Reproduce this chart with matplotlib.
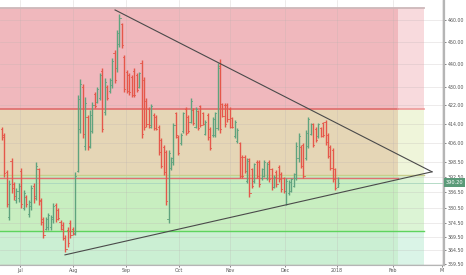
import matplotlib
matplotlib.use("Agg")
import matplotlib.pyplot as plt
from matplotlib.ticker import FixedLocator, FixedFormatter, NullLocator

# ---- data (OHLC, daily bars, mid-Jun 2017 .. 1 Jan 2018) ----
opens = [412, 409.5, 394.5, 377, 399, 389.5, 383.5, 384, 395, 380.5,
         384.5, 378, 381, 389, 385, 395.5, 383.5, 376, 372.5, 373,
         373, 376, 381.5, 379.5, 375, 374, 369, 372, 374.5, 372.5,
         371, 395, 412, 430, 405, 417, 405, 411, 427, 423.5,
         425, 437, 419, 430, 428, 430.5, 445, 438, 449, 458,
         443, 436.5, 435, 434, 437, 435, 430, 440.5, 433, 424,
         420.5, 413, 418, 417, 413, 407.5, 404.5, 402.5, 376, 396,
         398.5, 418.5, 408.5, 406, 411, 420.5, 417, 415, 420, 413,
         419.5, 421.5, 418.5, 410, 418, 412, 409.5, 409.5, 412.5, 439,
         422.5, 422, 422, 420.5, 416.5, 409, 407, 406, 400.5, 400.5,
         391, 399.5, 395.5, 391, 398.5, 398.5, 392, 393, 392, 398.5,
         395.5, 388.5, 394.5, 396.5, 393.5, 392, 387, 386, 387, 389,
         392, 400, 404.5, 405.5, 400, 405, 410, 414, 412, 409,
         412.5, 414.5, 415, 409.5, 404.5, 403.5, 395.5, 388.5]
highs = [412.8, 410.3, 395.3, 391.3, 400.1, 390.5, 388.1, 390.1, 396.1, 387.3,
         385.4, 383.4, 389.3, 390.1, 398.5, 396.1, 384.2, 376.9, 376.9, 378.4,
         377.7, 382.3, 382.3, 380.3, 375.8, 375.0, 370.1, 373.1, 375.8, 373.1,
         394.5, 426.4, 433.4, 431.2, 425.5, 417.9, 420.0, 423.4, 427.7, 429.9,
         436.0, 438.2, 433.8, 430.7, 433.8, 442.7, 446.3, 455.4, 462.8, 458.6,
         444.0, 437.3, 436.0, 435.1, 438.2, 436.0, 436.4, 441.8, 434.3, 425.1,
         421.3, 422.5, 418.7, 417.9, 413.7, 408.3, 405.4, 403.3, 403.3, 400.5,
         414.5, 419.1, 409.5, 410.3, 419.1, 421.3, 417.9, 425.1, 420.8, 421.3,
         420.0, 422.1, 419.1, 415.8, 418.7, 412.8, 417.0, 419.1, 440.4, 442.2,
         422.9, 422.9, 422.9, 421.3, 417.0, 415.8, 412.4, 406.6, 401.3, 401.3,
         400.1, 400.1, 396.1, 398.1, 399.3, 399.3, 396.1, 399.3, 398.5, 399.3,
         396.1, 393.3, 395.3, 397.3, 394.5, 392.5, 392.1, 391.3, 392.1, 394.1,
         406.6, 410.3, 405.4, 406.2, 411.6, 417.0, 414.5, 414.5, 412.8, 414.5,
         412.8, 414.9, 415.8, 410.3, 405.4, 404.1, 396.1, 392.5]
lows = [407.4, 392.5, 380.7, 375.8, 386.2, 383.4, 382.3, 382.7, 380.3, 379.6,
        380.7, 376.9, 379.6, 382.3, 383.4, 381.5, 373.9, 369.0, 372.0, 372.0,
        372.0, 374.6, 375.0, 375.8, 372.0, 368.2, 363.8, 365.6, 369.0, 370.1,
        370.1, 394.5, 410.3, 408.3, 403.3, 403.3, 404.1, 410.3, 420.8, 423.0,
        424.3, 410.7, 417.9, 424.3, 427.3, 429.5, 431.8, 436.4, 447.6, 447.2,
        427.7, 427.3, 426.4, 425.5, 425.5, 427.7, 429.5, 408.3, 411.6, 412.8,
        412.4, 412.4, 411.6, 411.6, 401.3, 396.1, 393.3, 381.5, 374.6, 395.3,
        397.3, 408.3, 401.3, 405.4, 410.3, 409.5, 410.3, 414.5, 413.7, 412.4,
        411.6, 412.8, 413.7, 409.5, 407.4, 403.3, 408.7, 408.7, 411.6, 410.3,
        417.0, 412.8, 415.0, 412.4, 412.4, 408.3, 406.2, 392.1, 392.1, 394.1,
        390.1, 384.6, 388.1, 390.1, 392.1, 388.5, 391.3, 392.5, 391.3, 390.5,
        387.3, 388.1, 388.5, 390.5, 386.5, 386.2, 381.5, 385.4, 386.5, 388.5,
        391.3, 398.5, 396.1, 392.1, 399.3, 404.1, 409.5, 404.6, 406.6, 408.3,
        408.7, 408.7, 405.4, 400.1, 395.3, 390.5, 387.3, 388.5]
closes = [408.5, 394, 382, 389.5, 388, 385, 387, 389, 382, 386,
          382, 382.5, 388, 384, 397, 383, 375, 370, 376, 377.5,
          377, 381, 376, 376.5, 372.5, 369, 365, 367, 370, 370.5,
          393, 424.5, 431, 410, 423, 404.5, 418, 422, 421.5, 429,
          435, 412, 432, 425, 433, 441.5, 433, 454, 461, 448.5,
          429, 428, 427.5, 426.5, 426.5, 428.5, 436, 410, 413, 414,
          413.5, 421.5, 412.5, 412, 402.5, 397, 394.5, 383, 402, 400,
          413.5, 409.5, 402, 409.5, 418.5, 410.5, 411, 424, 414.5, 420.5,
          412.5, 413.5, 414, 415, 408.5, 404, 416, 418.5, 438, 412,
          417.5, 414, 416, 413, 413, 415, 411.5, 393, 393, 395,
          399, 386, 389, 397.5, 393, 389.5, 395.5, 398.5, 397.5, 391.5,
          388.5, 392.5, 389.5, 391.5, 387.5, 387, 391, 390.5, 391.5, 393.5,
          405, 409, 397, 393, 410.5, 416, 414, 405.5, 407.5, 414,
          409, 409.5, 406.5, 401, 396, 391.5, 388, 390.2]
last_price = 390.20

month_labels = ["Jul", "Aug", "Sep", "Oct", "Nov", "Dec", "2018", "Feb", "M"]
month_pos = [7.5, 29.1, 50.7, 72.3, 93.1, 115.5, 136.5, 159.5, 179.5]

price_ticks = [460.0, 450.0, 440.0, 430.0, 422.0, 414.0, 406.0, 398.5,
               392.5, 386.5, 380.5, 374.5, 369.5, 364.5, 359.5]
price_tick_labels = ["460.00", "450.00", "440.00", "430.00", "422.00", "414.00",
                     "406.00", "398.50", "392.50", "386.50", "380.50", "374.50",
                     "369.50", "364.50", "359.50"]

# zone levels (price) drawn on chart
zone_top = 465.6
resist_level = 420.4
support_hi = 393.3
support_red = 392.1
green_level = 371.5
# triangle trendlines (bar index, price)
upper_line = ([46.2, 175.4], [464.7, 394.5])
lower_line = ([25.8, 175.4], [362.7, 394.5])

X0, X_DARK, X_LIGHT, X1 = -0.7, 161.6, 172.2, 180.3
Y0, Y1 = 359.0, 469.4

fig = plt.figure(figsize=(4.66, 2.75), dpi=100)
ax = fig.add_axes([0, 10 / 275, 444 / 466, 265 / 275])
ax.set_yscale("log")
ax.set_xlim(X0, X1)
ax.set_ylim(Y0, Y1)

# zones: main (saturated) and extension (light)
bands = [
    (resist_level, zone_top, "#F0B8BD", "#F8DADD"),
    (support_hi, resist_level, "#E5D6B6", "#EFF5DA"),
    (green_level, support_hi, "#C8EEC0", "#DCF4D5"),
    (Y0 - 5, green_level, "#CBEFD3", "#DAF4E7"),
]
for lo, hi, dark, light in bands:
    ax.fill_between([X0, X_DARK], lo, hi, color=dark, lw=0, zorder=0)
    ax.fill_between([X_DARK, X_LIGHT], lo, hi, color=light, lw=0, zorder=0)

# grid
for p in price_ticks:
    ax.axhline(p, color="#B8B0B0", lw=0.5, alpha=0.35, zorder=0.5)
for m in month_pos:
    ax.axvline(m, color="#B8B0B0", lw=0.5, alpha=0.35, zorder=0.5)

# level lines
ax.plot([X0, X_LIGHT], [zone_top, zone_top], color="#CDB8BA", lw=1.3, zorder=1)
ax.plot([X0, X_DARK], [resist_level, resist_level], color="#E06C6C", lw=1.2, zorder=1)
ax.plot([X_DARK, X_LIGHT], [resist_level, resist_level], color="#EE9A9A", lw=1.2, zorder=1)
ax.plot([X0, X_LIGHT], [support_hi, support_hi], color="#C8CE8C", lw=1.0, zorder=1)
ax.plot([X0, X_DARK], [support_red, support_red], color="#E07070", lw=1.0, zorder=1)
ax.plot([X0, X_LIGHT], [green_level, green_level], color="#5ED35E", lw=1.0, zorder=1)
ax.axhline(last_price, color="#A9D6BE", lw=0.6, zorder=1)

# OHLC bars
tick = 0.45
for i, (o, h, l, c) in enumerate(zip(opens, highs, lows, closes)):
    col = "#5FA37E" if c >= o else "#E5574A"
    ax.plot([i, i], [l, h], color=col, lw=1.0, zorder=3, solid_capstyle="butt")
    ax.plot([i - tick, i], [o, o], color=col, lw=0.6, zorder=3)
    ax.plot([i, i + tick], [c, c], color=col, lw=0.6, zorder=3)

# triangle
ax.plot(*upper_line, color="#4A4A4A", lw=0.8, zorder=4)
ax.plot(*lower_line, color="#4A4A4A", lw=0.8, zorder=4)

# axes styling
ax.yaxis.tick_right()
ax.yaxis.set_major_locator(FixedLocator(price_ticks))
ax.yaxis.set_major_formatter(FixedFormatter(price_tick_labels))
ax.yaxis.set_minor_locator(NullLocator())
ax.xaxis.set_major_locator(FixedLocator(month_pos))
ax.xaxis.set_major_formatter(FixedFormatter(month_labels))
ax.tick_params(axis="y", labelsize=3.4, colors="#555555", length=1.5, width=0.5, pad=1)
ax.tick_params(axis="x", labelsize=3.4, colors="#555555", length=1.5, width=0.5, pad=1)
for s in ["top", "left"]:
    ax.spines[s].set_visible(False)
ax.spines["right"].set_color("#B5B5B5")
ax.spines["right"].set_linewidth(1.6)
ax.spines["bottom"].set_color("#B5B5B5")
ax.spines["bottom"].set_linewidth(0.8)

# last price label
ax.annotate(f"{last_price:.2f}", xy=(1.0, last_price), xycoords=("axes fraction", "data"),
            xytext=(1.5, 0), textcoords="offset points", ha="left", va="center",
            fontsize=3.6, color="white",
            bbox=dict(boxstyle="square,pad=0.35", fc="#5A9A78", ec="none"),
            annotation_clip=False, zorder=6)

fig.savefig("out.png", dpi=100)
